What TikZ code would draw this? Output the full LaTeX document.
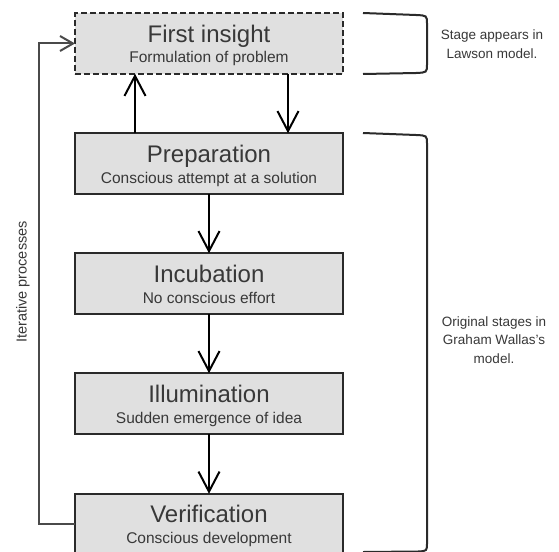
\documentclass[tikz,border=0pt]{standalone}
\usepackage{fontspec}
\setmainfont{Liberation Sans}
\usetikzlibrary{arrows.meta}
\definecolor{boxfill}{HTML}{E0E0E0}
\definecolor{boxline}{HTML}{2A2A2A}
\definecolor{txt}{HTML}{383838}
\definecolor{loopc}{HTML}{4A4A4A}
\tikzset{
  stagebox/.style={draw=boxline, fill=boxfill, line width=2pt, minimum width=268pt, minimum height=60.5pt, inner sep=0pt, outer sep=0pt},
  dashedbox/.style={stagebox, dash pattern=on 6pt off 3pt},
  titletext/.style={anchor=base, text=txt, inner sep=0pt, font=\fontsize{24}{28}\selectfont},
  subtext/.style={anchor=base, text=txt, inner sep=0pt, font=\fontsize{15.5}{18}\selectfont},
  sidetext/.style={align=center, text=txt, inner sep=0pt, font=\fontsize{13.5}{18.5}\selectfont},
  arr/.style={draw=black, line width=2pt, -{Straight Barb[length=20pt,width=21pt,line width=2pt]}},
  looparr/.style={draw=loopc, line width=2pt, -{Straight Barb[length=13pt,width=15pt,line width=2pt]}},
  bracket/.style={draw=boxline, line width=2pt}
}
\begin{document}
\begin{tikzpicture}[x=1pt,y=-1pt]
\useasboundingbox[fill=white] (0,0) rectangle (559,551);
% boxes
\node[dashedbox] (fi) at (209,43.5) {};
\node[stagebox] (prep) at (209,163.5) {};
\node[stagebox] (inc) at (209,283.5) {};
\node[stagebox] (ill) at (209,403.5) {};
\node[stagebox] (ver) at (209,524) {};
% texts
\node[titletext] (fit) at (209,42) {First insight};
\node[subtext] (fis) at (209,63) {Formulation of problem};
\node[titletext] (prept) at (209,162) {Preparation};
\node[subtext] (preps) at (209,183) {Conscious attempt at a solution};
\node[titletext] (inct) at (209,282) {Incubation};
\node[subtext] (incs) at (209,303) {No conscious effort};
\node[titletext] (illt) at (209,402) {Illumination};
\node[subtext] (ills) at (209,423) {Sudden emergence of idea};
\node[titletext] (vert) at (209,522.5) {Verification};
\node[subtext] (vers) at (209,543.5) {Conscious development};
% arrows
\coordinate (ux) at (135,0);
\coordinate (dx) at (288,0);
\draw[arr] (ux |- prep.north) -- (ux |- fi.south);
\draw[arr] (dx |- fi.south) -- (dx |- prep.north);
\draw[arr] (prep.south) -- (inc.north);
\draw[arr] (inc.south) -- (ill.north);
\draw[arr] (ill.south) -- (ver.north);
% loop
\draw[looparr] (ver.west) -- ++(-36,0) |- (fi.west);
\node[rotate=90, text=txt, inner sep=0pt, font=\fontsize{14.5}{17}\selectfont] (iter) at (23,282) {Iterative processes};
% brackets
\draw[bracket] (363,13) -- (416,15) .. controls (427,15.5) .. (427,24) -- (427,64) .. controls (427,72.5) .. (416,73) -- (363,74);
\draw[bracket] (363,133) -- (416,135) .. controls (427,135.5) .. (427,144) -- (427,543) .. controls (427,551) .. (418,551.5) -- (363,552);
% side texts
\node[sidetext] (lawson) at (492,44) {Stage appears in\\Lawson model.};
\node[sidetext] (wallas) at (494,340) {Original stages in\\Graham Wallas's\\model.};
\end{tikzpicture}
\end{document}
